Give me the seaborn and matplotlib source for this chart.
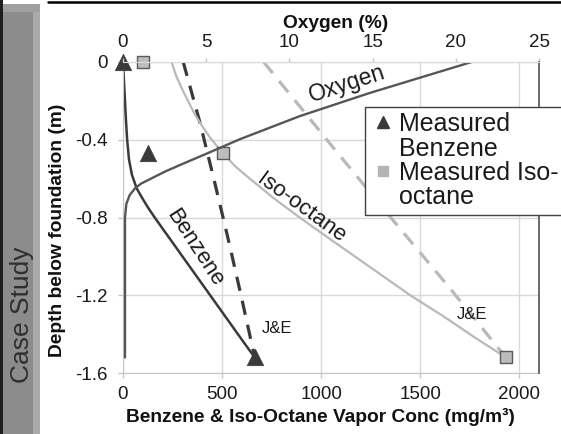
import matplotlib
matplotlib.use("Agg")
import matplotlib.pyplot as plt
import seaborn as sns
from matplotlib.patches import Rectangle
from matplotlib.lines import Line2D

# Benzene vapour profile from the model (mg/m3 vs depth in m)
benzene_conc = [0, 5, 10, 15, 21, 30, 45, 69, 97, 127, 160, 195, 265, 335, 405, 475, 545, 615, 665]
benzene_depth = [0, -0.1, -0.2, -0.3, -0.4, -0.5, -0.58, -0.65, -0.7, -0.75, -0.8, -0.85, -0.95, -1.05,
                 -1.15, -1.25, -1.35, -1.45, -1.52]

# Johnson & Ettinger benzene profile
je_benzene_conc = [304, 388, 463, 540, 600, 665]
je_benzene_depth = [0, -0.31, -0.62, -0.95, -1.22, -1.52]

# Iso-octane vapour profile from the model
isooctane_conc = [245, 268, 296, 328, 363, 400, 440, 505, 570, 640, 760, 892, 1030, 1170, 1310, 1450, 1620,
                  1780, 1933]
isooctane_depth = [0, -0.07, -0.135, -0.2, -0.27, -0.33, -0.39, -0.47, -0.54, -0.6, -0.7, -0.8, -0.9, -1.0,
                   -1.1, -1.2, -1.31, -1.42, -1.52]

# Johnson & Ettinger iso-octane profile
je_isooctane_conc = [710, 1085, 1360, 1647, 1933]
je_isooctane_depth = [0, -0.47, -0.81, -1.16, -1.52]

# Oxygen profile (%)
oxygen_pct = [0.12, 0.12, 0.2, 0.4, 0.72, 1.1, 1.52, 2.52, 3.53, 4.93, 7.03, 10.64, 14.84, 20.95]
oxygen_depth = [-1.52, -0.8, -0.73, -0.685, -0.65, -0.625, -0.607, -0.564, -0.526, -0.475, -0.397, -0.278,
                -0.159, 0.0]

# Field measurements
meas_benzene_conc = [0, 128, 665]
meas_benzene_depth = [0, -0.47, -1.52]
meas_isooctane_conc = [102, 505, 1933]
meas_isooctane_depth = [0, -0.47, -1.52]

conc_ticks = [0, 500, 1000, 1500, 2000]
depth_ticks = [0, -0.4, -0.8, -1.2, -1.6]
oxygen_ticks = [0, 5, 10, 15, 20, 25]
legend_labels = ["Measured", "Benzene", "Measured Iso-", "octane"]

sns.set_style("white")
plt.rcParams["font.family"] = ["Liberation Sans", "DejaVu Sans"]
plt.rcParams["axes.unicode_minus"] = False

W, H = 561, 434
fig = plt.figure(figsize=(W / 100, H / 100), dpi=100)
fig.patch.set_facecolor("white")

# side banner and top rule
fig.add_artist(Rectangle((0, 0), 3 / W, 1, transform=fig.transFigure, fc="#1e1e1e", ec="none"))
fig.add_artist(Rectangle((3 / W, 0), 37 / W, (H - 4) / H, transform=fig.transFigure, fc="#8c8c8c", ec="none"))
fig.add_artist(Rectangle((33 / W, 0), 7 / W, (H - 4) / H, transform=fig.transFigure, fc="#aaaaaa", ec="none"))
fig.add_artist(Rectangle((3 / W, (H - 12) / H), 37 / W, 8 / H, transform=fig.transFigure, fc="#a0a0a0", ec="none"))
fig.add_artist(Line2D([48 / W, 1], [1 - 2 / H, 1 - 2 / H], transform=fig.transFigure, color="black", lw=1.8))
fig.text(22 / W, 1 - 315 / H, "Case Study", rotation=90, ha="center", va="center",
         fontsize=19, color="#2e2e2e")

ax = fig.add_axes([123 / W, 1 - 373 / H, 416 / W, 311 / H])
ax2 = ax.twiny()

dark = "#3a3a3a"
light = "#b9b9b9"

sns.lineplot(x=benzene_conc, y=benzene_depth, sort=False, estimator=None, color=dark, linewidth=1.8, ax=ax)
sns.lineplot(x=je_benzene_conc, y=je_benzene_depth, sort=False, estimator=None, color=dark, linewidth=2.3,
             linestyle=(0, (4.5, 3.2)), ax=ax)
sns.lineplot(x=isooctane_conc, y=isooctane_depth, sort=False, estimator=None, color=light, linewidth=1.6, ax=ax)
sns.lineplot(x=je_isooctane_conc, y=je_isooctane_depth, sort=False, estimator=None, color=light, linewidth=2.3,
             linestyle=(0, (4.5, 3.2)), ax=ax)
sns.lineplot(x=oxygen_pct, y=oxygen_depth, sort=False, estimator=None, color="#565656", linewidth=1.7, ax=ax2)

sns.scatterplot(x=meas_benzene_conc, y=meas_benzene_depth, marker="^", s=140, color=dark, edgecolor=dark,
                linewidth=0.5, ax=ax, zorder=5, clip_on=False)
sns.scatterplot(x=meas_isooctane_conc, y=meas_isooctane_depth, marker="s", s=80, color="#bdbdbd",
                edgecolor="#5a5a5a", linewidth=1.0, ax=ax, zorder=5, clip_on=False)

ax.set_xlim(0, 2100)
ax.set_ylim(-1.6, 0)
ax.set_xticks(conc_ticks)
ax.set_yticks(depth_ticks)
ax.set_yticklabels([f"{v:g}" for v in depth_ticks])
ax2.set_xlim(0, 25)
ax2.set_xticks(oxygen_ticks)
ax2.set_ylim(-1.6, 0)

ax.grid(True, color="#d9d9d9", linewidth=1.0)
ax.set_axisbelow(True)
ax2.grid(False)

for s in ["top", "right"]:
    ax.spines[s].set_visible(False)
ax.spines["left"].set_color("#c6c6c6")
ax.spines["bottom"].set_color("#c6c6c6")
ax2.spines["left"].set_visible(False)
ax2.spines["bottom"].set_visible(False)
ax2.spines["top"].set_color("#d9d9d9")
ax2.spines["right"].set_color("#505050")
ax2.spines["right"].set_linewidth(1.2)

ax.tick_params(axis="x", bottom=True, direction="out", length=3.6, width=1, color="#c6c6c6",
               labelsize=13.5, labelcolor="#1a1a1a", pad=6)
ax.tick_params(axis="y", left=True, direction="out", length=3.6, width=1, color="#c6c6c6",
               labelsize=13.5, labelcolor="#1a1a1a", pad=7.5)
ax2.tick_params(axis="x", top=True, direction="out", length=3, width=1, color="#c6c6c6",
                labelsize=13.5, labelcolor="#1a1a1a", pad=5)

ax.set_xlabel("Benzene & Iso-Octane Vapor Conc (mg/m³)", fontsize=13.8, fontweight="bold", color="#111111")
ax.xaxis.set_label_coords((320 - 123) / 416, (373 - 408) / 311)
ax.set_ylabel("Depth below foundation (m)", fontsize=13.8, fontweight="bold", color="#111111")
ax.yaxis.set_label_coords((66 - 123) / 416, (373 - 230) / 311)
ax2.set_xlabel("Oxygen (%)", fontsize=13.8, fontweight="bold", color="#111111")
ax2.xaxis.set_label_coords((336 - 123) / 416, (373 - 28) / 311)
ax2.set_ylabel("")

# curve labels
ax.text(1128, -0.113, "Oxygen", rotation=18, fontsize=16.5, ha="center", va="center", color="#1a1a1a")
ax.text(363, -0.956, "Benzene", rotation=-57, fontsize=16, ha="center", va="center", color="#1a1a1a")
ax.text(902, -0.75, "Iso-octane", rotation=-36, fontsize=16, ha="center", va="center", color="#1a1a1a")
ax.text(778, -1.373, "J&E", fontsize=12, ha="center", va="center", color="#1a1a1a")
ax.text(1763, -1.298, "J&E", fontsize=12, ha="center", va="center", color="#1a1a1a")

handles = [
    Line2D([], [], marker="^", color=dark, ls="none", ms=8),
    Line2D([], [], ls="none"),
    Line2D([], [], marker="s", color="#b4b4b4", ls="none", ms=7),
    Line2D([], [], ls="none"),
]
leg = ax2.legend(handles, legend_labels, loc="upper left", bbox_to_anchor=(365 / W, 1 - 107 / H),
                 bbox_transform=fig.transFigure, borderaxespad=0, fontsize=18, borderpad=0.2,
                 labelspacing=0.02, handlelength=1.0, handletextpad=0.15, fancybox=False,
                 framealpha=1, edgecolor="#404040")
leg.get_frame().set_linewidth(1.0)
for t in leg.get_texts():
    t.set_color("#1a1a1a")

fig.savefig("out.png", dpi=100)
